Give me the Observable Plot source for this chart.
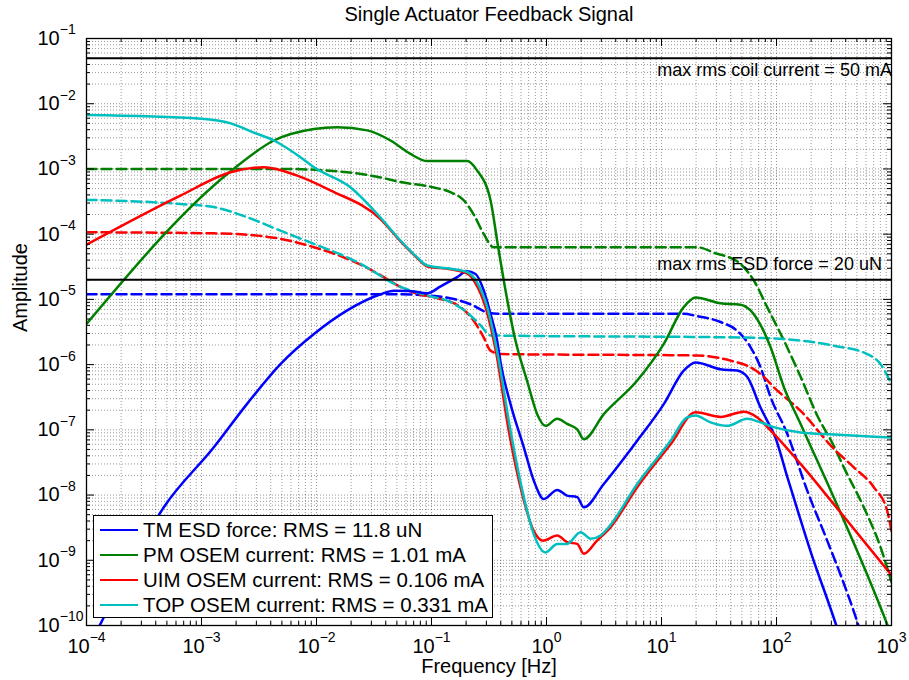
<!DOCTYPE html>
<html><head><meta charset="utf-8">
<script src="https://cdn.jsdelivr.net/npm/d3@7"></script>
<script src="https://cdn.jsdelivr.net/npm/@observablehq/plot@0.6"></script>
<style>
body{margin:0;background:#fff;font-family:"Liberation Sans",Arial,Helvetica,sans-serif;}
#wrap{position:relative;width:909px;height:680px;overflow:hidden;}
#legend{position:absolute;left:93px;top:515px;width:400px;height:103px;box-sizing:border-box;border:1.5px solid #000;background:#fff;}
.row{position:absolute;left:0;height:25px;display:flex;align-items:center;font-size:20.5px;white-space:nowrap;color:#000;}
.sw{width:38px;height:2.5px;margin-left:6px;margin-right:5px;}
</style></head><body><div id="wrap"></div>
<script>
// ---- data: [frequency (Hz), amplitude] ----
const tmEsdForce = [[1.25e-4,8.7e-11],[1.32e-4,1.05e-10],[2.42e-4,8.7e-10],[4.7e-4,6.5e-9],[1.28e-3,5.4e-8],[2.49e-3,2.5e-7],[4.86e-3,1.02e-6],[9.5e-3,2.95e-6],[0.0185,6.8e-6],[0.0361,1.2e-5],[0.047,1.36e-5],[0.063,1.35e-5],[0.0918,1.24e-5],[0.12,1.58e-5],[0.167,2.19e-5],[0.204,2.69e-5],[0.2415,2.45e-5],[0.285,1.36e-5],[0.326,6.0e-6],[0.372,2.34e-6],[0.398,1.1e-6],[0.486,2.5e-7],[0.635,5.4e-8],[0.776,1.66e-8],[0.948,8.7e-9],[1.24,1.2e-8],[1.51,9.8e-9],[1.85,9.3e-9],[2.11,6.5e-9],[3.15,1.48e-8],[6.15,6.8e-8],[10.5,2.5e-7],[15.6,8.1e-7],[19.8,1.08e-6],[32.6,8.5e-7],[45.5,8.1e-7],[55.6,6.5e-7],[72.6,2.2e-7],[88.7,1.1e-7],[94.8,8.7e-8],[126,1.74e-8],[200,1.29e-9],[331,1e-10],[355,6.8e-11]];
const pmOsem = [[1e-4,4.2e-6],[1.9e-3,1.0e-3],[4.26e-3,2.73e-3],[9.5e-3,4.1e-3],[0.0151,4.37e-3],[0.0276,3.9e-3],[0.044,2.73e-3],[0.0656,1.7e-3],[0.0918,1.32e-3],[0.128,1.32e-3],[0.204,1.32e-3],[0.249,9.5e-4],[0.326,3.3e-4],[0.38,6.3e-5],[0.425,1.95e-5],[0.537,2.34e-6],[0.679,5.6e-7],[0.83,1.74e-7],[0.98,1.15e-7],[1.24,1.48e-7],[1.51,1.23e-7],[1.85,1.02e-7],[2.11,7.2e-8],[3.15,1.74e-7],[6.15,5.7e-7],[10.5,2.1e-6],[15.6,7.6e-6],[19.8,1.07e-5],[32.6,8.7e-6],[48.6,8.3e-6],[59.4,6.8e-6],[88.7,1.86e-6],[116,4.5e-7],[162,1.23e-7],[916,1.05e-10],[1000,7e-11]];
const uimOsem = [[1e-4,6.9e-5],[6.56e-4,3.9e-4],[1.79e-3,8.9e-4],[3.48e-3,1.06e-3],[6.8e-3,7.9e-4],[0.0132,4.7e-4],[0.036,1.7e-4],[0.0537,7.8e-5],[0.0752,4.3e-5],[0.0918,3.2e-5],[0.146,2.9e-5],[0.204,2.5e-5],[0.24,1.8e-5],[0.295,7.6e-6],[0.363,1.6e-6],[0.468,1e-7],[0.617,1e-8],[0.776,2.8e-9],[0.933,2.0e-9],[1.24,2.4e-9],[1.51,1.9e-9],[1.85,1.78e-9],[2.11,1.26e-9],[2.75,2.0e-9],[3.6,3.2e-9],[6.15,1.32e-8],[12.0,6.0e-8],[19.8,1.86e-7],[32.6,1.58e-7],[52,1.9e-7],[68,1.55e-7],[88.7,9.8e-8],[162,3.0e-8],[316,7.2e-9],[1000,5.9e-10]];
const topOsem = [[1e-4,6.7e-3],[1e-3,5.9e-3],[1.8e-3,5.0e-3],[2.85e-3,3.6e-3],[4.26e-3,2.73e-3],[7.26e-3,1.51e-3],[9.5e-3,1.06e-3],[0.0198,5.2e-4],[0.036,1.8e-4],[0.0537,8.0e-5],[0.0752,4.4e-5],[0.0918,3.3e-5],[0.146,2.95e-5],[0.204,2.63e-5],[0.249,1.82e-5],[0.305,7.6e-6],[0.372,1.6e-6],[0.486,9.8e-8],[0.635,9.3e-9],[0.776,2.5e-9],[0.98,1.32e-9],[1.24,1.78e-9],[1.51,1.78e-9],[1.98,2.7e-9],[2.42,2.14e-9],[2.95,2.4e-9],[3.36,3.0e-9],[6.15,1.48e-8],[12.0,6.8e-8],[16.7,1.55e-7],[19.8,1.66e-7],[26.7,1.3e-7],[37.2,1.15e-7],[55.6,1.48e-7],[72.6,1.3e-7],[94.8,1.1e-7],[162,9.1e-8],[316,8.5e-8],[1000,7.6e-8]];
const tmEsdDashed = [[1e-4,1.2e-5],[0.05,1.2e-5],[0.0918,1.15e-5],[0.179,9.5e-6],[0.233,8.0e-6],[0.305,6.3e-6],[0.4,6.0e-6],[15.8,6.0e-6],[19.8,5.6e-6],[32.6,4.5e-6],[45.5,3.3e-6],[59.4,1.86e-6],[72.6,9.1e-7],[88.7,3.2e-7],[124,8.7e-8],[185,1.17e-8],[276,2.0e-9],[385,4.4e-10],[501,1.17e-10],[537,7.9e-11]];
const pmOsemDashed = [[1e-4,1e-3],[5e-3,1e-3],[0.0185,8.9e-4],[0.036,7.4e-4],[0.0537,6.3e-4],[0.105,5.2e-4],[0.146,4.4e-4],[0.191,3.3e-4],[0.233,2.0e-4],[0.285,1.0e-4],[0.348,6.3e-5],[20.4,6.3e-5],[30.5,5.0e-5],[34.8,4.7e-5],[48.6,3.5e-5],[63.5,1.95e-5],[83,7.6e-6],[116,2.34e-6],[162,6.5e-7],[226,1.66e-7],[316,5.6e-8],[385,2.66e-8],[574,6.5e-9],[802,1.6e-9],[1000,4.6e-10]];
const uimOsemDashed = [[1e-4,1.07e-4],[1.28e-3,1.03e-4],[3.05e-3,9.5e-5],[4.86e-3,8.5e-5],[9.5e-3,6.3e-5],[0.0185,4.2e-5],[0.0242,3.4e-5],[0.036,2.35e-5],[0.0537,1.55e-5],[0.0752,1.22e-5],[0.105,1.07e-5],[0.179,7.6e-6],[0.233,4.7e-6],[0.285,2.6e-6],[0.326,1.64e-6],[0.4,1.45e-6],[20.4,1.38e-6],[39.8,1.15e-6],[59.4,9.1e-7],[77.6,6.5e-7],[94.8,4.5e-7],[162,1.95e-7],[316,5.1e-8],[470,2.66e-8],[702,1.32e-8],[916,5.8e-9],[1000,2.8e-9]];
const topOsemDashed = [[1e-4,3.36e-4],[6.56e-4,2.9e-4],[1.28e-3,2.6e-4],[2.49e-3,1.82e-4],[4.86e-3,1.13e-4],[9.5e-3,7.1e-5],[0.0185,4.4e-5],[0.0242,3.5e-5],[0.036,2.3e-5],[0.047,1.74e-5],[0.0918,1.15e-5],[0.146,9.1e-6],[0.204,6.3e-6],[0.267,4.0e-6],[0.326,2.8e-6],[52,2.6e-6],[162,2.34e-6],[316,1.95e-6],[615,1.45e-6],[802,1.02e-6],[1000,5.0e-7]];

const seriesNames = ["TM ESD force: RMS = 11.8 uN","PM OSEM current: RMS = 1.01 mA","UIM OSEM current: RMS = 0.106 mA","TOP OSEM current: RMS = 0.331 mA"];
const seriesColors = ["#0000ff","#008000","#ff0000","#00bfbf"];
const solidSeries = [tmEsdForce, pmOsem, uimOsem, topOsem];
const dashedSeries = [tmEsdDashed, pmOsemDashed, uimOsemDashed, topOsemDashed];

const limitLevels = [0.05, 2e-5];
const limitLabels = ["max rms coil current = 50 mA", "max rms ESD force = 20 uN"];
const limitLabelFreq = 9.2;

const xDecades = [1e-4,1e-3,1e-2,1e-1,1,10,100,1000];
const yDecades = [1e-10,1e-9,1e-8,1e-7,1e-6,1e-5,1e-4,1e-3,1e-2,1e-1];
const minorMult = [2,3,4,5,6,7,8,9];

const titleText = "Single Actuator Feedback Signal";
const xLabel = "Frequency [Hz]";
const yLabel = "Amplitude";

// ---- layout ----
const W = 909, H = 680, mL = 86, mR = 18, mT = 38, mB = 55;
const plotW = W - mL - mR, plotH = H - mT - mB;
const xMinor = xDecades.slice(0, -1).flatMap(d => minorMult.map(m => m * d));
const yMinor = yDecades.slice(0, -1).flatMap(d => minorMult.map(m => m * d));
const gridStyle = {stroke: "#000", strokeOpacity: 0.5, strokeWidth: 0.8, strokeDasharray: "1,2"};
const expFmt = d => String(Math.round(Math.log10(d)));

const marks = [
  Plot.ruleX(xMinor.concat(xDecades), {x: d => d, ...gridStyle}),
  Plot.ruleY(yMinor.concat(yDecades), {y: d => d, ...gridStyle}),
];
dashedSeries.forEach((s, i) => marks.push(Plot.line(s, {x: d => d[0], y: d => d[1], stroke: seriesColors[i], strokeWidth: 2.5, strokeDasharray: "10,5", curve: "monotone-x", clip: true})));
solidSeries.forEach((s, i) => marks.push(Plot.line(s, {x: d => d[0], y: d => d[1], stroke: seriesColors[i], strokeWidth: 2.5, curve: "monotone-x", clip: true})));
marks.push(
  Plot.ruleY(limitLevels, {y: d => d, stroke: "#000", strokeWidth: 2}),
  Plot.text([limitLabels[0]], {x: () => limitLabelFreq, y: () => limitLevels[0], text: d => d, textAnchor: "start", lineAnchor: "top", dy: 5.5, fontSize: 18, fill: "#000"}),
  Plot.text([limitLabels[1]], {x: () => limitLabelFreq, y: () => limitLevels[1], text: d => d, textAnchor: "start", lineAnchor: "bottom", dy: -10, fontSize: 18, fill: "#000"}),
  // inward ticks on all four sides
  Plot.tickX(xDecades, {x: d => d, insetTop: plotH - 8, stroke: "#000"}),
  Plot.tickX(xMinor, {x: d => d, insetTop: plotH - 4, stroke: "#000"}),
  Plot.tickX(xDecades, {x: d => d, insetBottom: plotH - 8, stroke: "#000"}),
  Plot.tickX(xMinor, {x: d => d, insetBottom: plotH - 4, stroke: "#000"}),
  Plot.tickY(yDecades, {y: d => d, insetRight: plotW - 8, stroke: "#000"}),
  Plot.tickY(yMinor, {y: d => d, insetRight: plotW - 4, stroke: "#000"}),
  Plot.tickY(yDecades, {y: d => d, insetLeft: plotW - 8, stroke: "#000"}),
  Plot.tickY(yMinor, {y: d => d, insetLeft: plotW - 4, stroke: "#000"}),
  Plot.frame({stroke: "#000", strokeWidth: 1.3}),
  Plot.axisX(xDecades, {tickSize: 0, tickPadding: 13, tickFormat: expFmt, fontSize: 20, label: null}),
  Plot.axisY(yDecades, {tickSize: 0, tickPadding: 49, textAnchor: "start", tickFormat: expFmt, fontSize: 20, label: null}),
  Plot.text([titleText], {frameAnchor: "top", lineAnchor: "middle", text: d => d, dy: -24, fontSize: 20, fill: "#000"}),
  Plot.text([xLabel], {frameAnchor: "bottom", lineAnchor: "middle", text: d => d, dy: 41, fontSize: 20, fill: "#000"}),
  Plot.text([yLabel], {frameAnchor: "left", lineAnchor: "middle", text: d => d, dx: -66, rotate: -90, fontSize: 20, fill: "#000"})
);

const svg = Plot.plot({
  width: W, height: H,
  marginLeft: mL, marginRight: mR, marginTop: mT, marginBottom: mB,
  style: {fontFamily: "'Liberation Sans', Arial, Helvetica, sans-serif", fontSize: "20px", background: "#fff", color: "#000", overflow: "visible"},
  x: {type: "log", domain: [1e-4, 1e3]},
  y: {type: "log", domain: [1e-10, 1e-1]},
  marks
});

// superscript exponents on tick labels: 10^n
svg.querySelectorAll('g[aria-label="x-axis tick label"] text, g[aria-label="y-axis tick label"] text').forEach(t => {
  const e = t.textContent;
  t.textContent = "10";
  const s = document.createElementNS("http://www.w3.org/2000/svg", "tspan");
  s.setAttribute("dy", "-10.5");
  s.setAttribute("font-size", "14");
  s.textContent = e.replace("-", "\u2212");
  t.appendChild(s);
});

const wrap = document.getElementById("wrap");
wrap.appendChild(svg);

// legend
const legend = document.createElement("div");
legend.id = "legend";
seriesNames.forEach((name, i) => {
  const row = document.createElement("div");
  row.className = "row";
  row.style.top = (1.5 + i * 25) + "px";
  const sw = document.createElement("span");
  sw.className = "sw";
  sw.style.background = seriesColors[i];
  const tx = document.createElement("span");
  tx.textContent = name;
  row.appendChild(sw); row.appendChild(tx);
  legend.appendChild(row);
});
wrap.appendChild(legend);
</script></body></html>
